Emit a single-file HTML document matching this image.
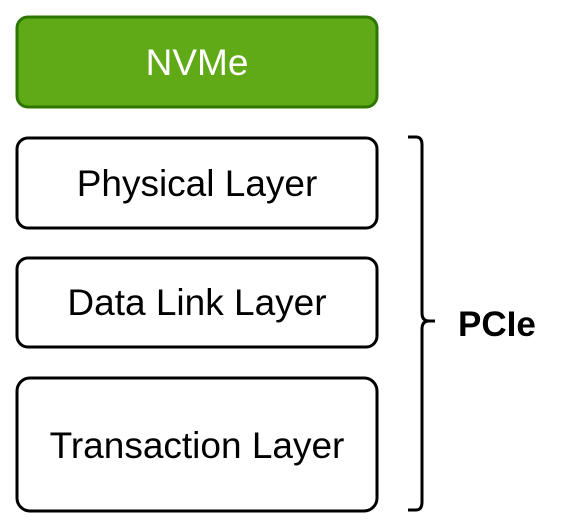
<!DOCTYPE html>
<html><head><meta charset="utf-8"><style>
html,body{margin:0;padding:0;background:#fff;width:588px;height:530px;overflow:hidden}
</style></head><body>
<svg width="588" height="530" xmlns="http://www.w3.org/2000/svg" font-family="Liberation Sans, Arial, sans-serif">
<rect x="17" y="17" width="360" height="90" rx="11" fill="#60a917" stroke="#2d7600" stroke-width="3"/>
<text x="197" y="75" font-size="37" fill="#fff" text-anchor="middle">NVMe</text>
<rect x="17" y="138" width="360" height="90" rx="11" fill="#fff" stroke="#000" stroke-width="3"/>
<text x="197" y="196" font-size="37" text-anchor="middle">Physical Layer</text>
<rect x="17" y="258" width="360" height="89" rx="11" fill="#fff" stroke="#000" stroke-width="3"/>
<text x="197" y="315" font-size="37" text-anchor="middle">Data Link Layer</text>
<rect x="17" y="378" width="360" height="133" rx="13" fill="#fff" stroke="#000" stroke-width="3"/>
<text x="197" y="458" font-size="37" text-anchor="middle">Transaction Layer</text>
<path d="M408 137 L416 137 Q422 137 422 145 L422 313 Q422 321 429 321 L435 321 M429 321 Q422 321 422 329 L422 502 Q422 510 416 510 L408 510" fill="none" stroke="#000" stroke-width="3"/>
<text x="458" y="336" font-size="35" font-weight="bold">PCIe</text>
</svg>
</body></html>
